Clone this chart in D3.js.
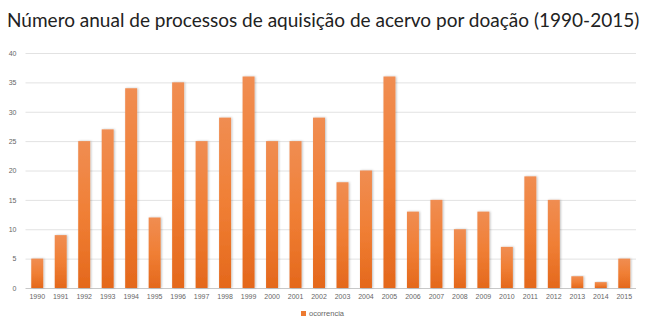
<!DOCTYPE html>
<html>
<head>
<meta charset="utf-8">
<script src="https://cdn.jsdelivr.net/npm/d3@7"></script>
<style>
  body { margin: 0; background: #fff; }
  .tick text { fill: #666; font-family: "Liberation Sans", sans-serif; font-size: 7px; }
</style>
</head>
<body>
<div class="bar_chart"></div>
<script>
const years = ["1990","1991","1992","1993","1994","1995","1996","1997","1998","1999","2000","2001","2002",
               "2003","2004","2005","2006","2007","2008","2009","2010","2011","2012","2013","2014","2015"]
const ocorrencia = [5, 9, 25, 27, 34, 12, 35, 25, 29, 36, 25, 25, 29, 18, 20, 36, 13, 15, 10, 13, 7, 19, 15, 2, 1, 5]
const yTicks = [0, 5, 10, 15, 20, 25, 30, 35, 40]
const title = "Número anual de processos de aquisição de acervo por doação (1990-2015)"
const seriesName = "ocorrencia"

function drawBars() {
    const dataset = years.map((y, i) => ({ year: y, number: ocorrencia[i] }))

    let dimensions = {
        width: 650,
        height: 326,
        margin: { top: 53, right: 14, bottom: 38, left: 25.5 }
    }
    dimensions.boundedWidth = dimensions.width - dimensions.margin.left - dimensions.margin.right
    dimensions.boundedHeight = dimensions.height - dimensions.margin.top - dimensions.margin.bottom

    const wrapper = d3.select(".bar_chart")
        .append("svg")
        .attr("width", dimensions.width)
        .attr("height", dimensions.height)

    const defs = wrapper.append("defs")
    const grad = defs.append("linearGradient")
        .attr("id", "barGrad")
        .attr("x1", 0).attr("y1", 0).attr("x2", 0).attr("y2", 1)
    grad.append("stop").attr("offset", "0%").attr("stop-color", "#f08d52")
    grad.append("stop").attr("offset", "50%").attr("stop-color", "#f07f35")
    grad.append("stop").attr("offset", "100%").attr("stop-color", "#e4681c")

    const shadow = defs.append("filter").attr("id", "shadow")
        .attr("x", "-30%").attr("y", "-10%").attr("width", "160%").attr("height", "120%")
    shadow.append("feDropShadow")
        .attr("dx", 1).attr("dy", 0).attr("stdDeviation", 1)
        .attr("flood-color", "#000").attr("flood-opacity", 0.25)

    // title
    const titleText = wrapper.append("text")
        .attr("x", 7)
        .attr("y", 27)
        .attr("font-family", "Lato, sans-serif")
        .attr("font-size", 20)
        .attr("fill", "#222")
        .text(title)
    const tw = titleText.node().getComputedTextLength()
    titleText.attr("font-size", 20 * 633 / tw)

    const bounds = wrapper.append("g")
        .attr("transform", `translate(${dimensions.margin.left},${dimensions.margin.top})`)

    const xScale = d3.scaleBand()
        .domain(years)
        .range([0, dimensions.boundedWidth])
        .paddingInner(0.49)
        .paddingOuter(0.245)

    const yScale = d3.scaleLinear()
        .domain([0, 40])
        .range([dimensions.boundedHeight, 0])

    // gridlines
    bounds.append("g")
        .selectAll("line")
        .data(yTicks)
        .join("line")
        .attr("x1", 0)
        .attr("x2", dimensions.boundedWidth)
        .attr("y1", d => yScale(d) + 0.5)
        .attr("y2", d => yScale(d) + 0.5)
        .attr("stroke", d => d === 0 ? "#c8c8c8" : "#e2e2e2")
        .attr("stroke-width", 1)

    const yAxisGenerator = d3.axisLeft(yScale)
        .tickValues(yTicks)
        .tickSize(0)
        .tickPadding(9)
    const yAxis = bounds.append("g").call(yAxisGenerator)
    yAxis.select(".domain").remove()

    // bars
    bounds.selectAll("rect.bar")
        .data(dataset)
        .join("rect")
        .attr("class", "bar")
        .attr("x", d => xScale(d.year))
        .attr("y", d => yScale(d.number))
        .attr("width", xScale.bandwidth())
        .attr("height", d => yScale(0) - yScale(d.number))
        .attr("fill", "url(#barGrad)")
        .attr("filter", "url(#shadow)")

    const xAxisGenerator = d3.axisBottom(xScale)
        .tickSize(0)
        .tickPadding(6)
    const xAxis = bounds.append("g")
        .attr("transform", `translate(0,${dimensions.boundedHeight})`)
        .call(xAxisGenerator)
    xAxis.select(".domain").remove()

    // legend
    const legend = wrapper.append("g").attr("transform", "translate(301,311)")
    legend.append("rect")
        .attr("width", 5).attr("height", 5)
        .attr("fill", "#ed7a30")
    legend.append("text")
        .attr("x", 8).attr("y", 5)
        .attr("font-family", "Liberation Sans, sans-serif")
        .attr("font-size", 7.5)
        .attr("fill", "#666")
        .text(seriesName)
}

drawBars()
</script>
</body>
</html>
